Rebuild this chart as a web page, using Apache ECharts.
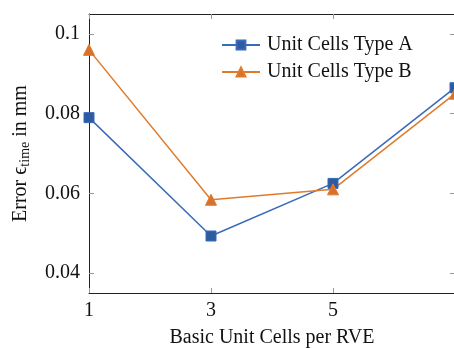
<!DOCTYPE html>
<html>
<head>
<meta charset="utf-8">
<script src="https://cdn.jsdelivr.net/npm/echarts@6/dist/echarts.min.js"></script>
<style>
  html, body { margin: 0; padding: 0; background: #fff; }
  #chart { width: 454px; height: 349px; }
</style>
</head>
<body>
<div id="chart"></div>
<script>
// Basic unit cells per RVE
const cellsPerRve = [1, 3, 5, 7];
// Error in mm for each unit cell type
const typeA = [0.0790, 0.0493, 0.0625, 0.0865];
const typeB = [0.0960, 0.0584, 0.0610, 0.0850];
const seriesNames = ['Unit Cells Type A', 'Unit Cells Type B'];
// Tick positions
const xTicks = [1, 3, 5];
const yTicks = [0.04, 0.06, 0.08, 0.1];

const FONT = '"Liberation Serif", "DejaVu Serif", serif';
const tickStyle = { show: true, inside: true, length: 5, lineStyle: { color: '#999', width: 1 } };
const axisLine = { show: true, lineStyle: { color: '#222', width: 1 } };

const chart = echarts.init(document.getElementById('chart'), null, { renderer: 'canvas' });
chart.setOption({
  animation: false,
  textStyle: { fontFamily: FONT },
  grid: { left: 89, top: 14, width: 366, height: 279, containLabel: false, outerBoundsMode: 'none' },
  legend: {
    left: 221, top: 35, orient: 'vertical', padding: 0,
    itemWidth: 38, itemHeight: 11, itemGap: 7,
    textStyle: { fontFamily: FONT, fontSize: 20, color: '#111', padding: [0, 0, 0, 2] },
    data: seriesNames
  },
  xAxis: [{
    type: 'value', min: 1, max: 7,
    axisLine: axisLine,
    axisTick: Object.assign({ customValues: xTicks }, tickStyle),
    axisLabel: { customValues: xTicks, fontFamily: FONT, fontSize: 20, color: '#111', margin: 8 },
    splitLine: { show: false },
    name: 'Basic Unit Cells per RVE', nameLocation: 'middle', nameGap: 35,
    nameTextStyle: { fontFamily: FONT, fontSize: 20, color: '#111' }
  }, {
    type: 'value', min: 1, max: 7, position: 'top',
    axisLine: axisLine,
    axisTick: Object.assign({ customValues: xTicks }, tickStyle),
    axisLabel: { show: false }, splitLine: { show: false }
  }],
  yAxis: [{
    type: 'value', min: 0.035, max: 0.105,
    axisLine: axisLine,
    axisTick: Object.assign({ customValues: yTicks }, tickStyle),
    axisLabel: { customValues: yTicks, fontFamily: FONT, fontSize: 20, color: '#111', margin: 9,
      formatter: v => String(Math.round(v * 100) / 100) },
    splitLine: { show: false },
    name: '{n|Error ϵ}{s|time}{n| in mm}', nameLocation: 'middle', nameGap: 57,
    nameTextStyle: {
      rich: {
        n: { fontFamily: FONT, fontSize: 20, color: '#111' },
        s: { fontFamily: FONT, fontSize: 14, color: '#111', verticalAlign: 'bottom', padding: [8, 0, 0, 0] }
      }
    }
  }, {
    type: 'value', min: 0.035, max: 0.105, position: 'right',
    axisLine: axisLine,
    axisTick: Object.assign({ customValues: yTicks }, tickStyle),
    axisLabel: { show: false }, splitLine: { show: false }
  }],
  series: [{
    name: seriesNames[0], type: 'line',
    data: cellsPerRve.map((x, i) => [x, typeA[i]]),
    symbol: 'rect', symbolSize: 10,
    lineStyle: { color: '#3a6ab8', width: 1.5 },
    itemStyle: { color: '#2d5aa0', borderColor: '#3a6ab8', borderWidth: 1 }
  }, {
    name: seriesNames[1], type: 'line',
    data: cellsPerRve.map((x, i) => [x, typeB[i]]),
    symbol: 'triangle', symbolSize: 11,
    lineStyle: { color: '#e07b2c', width: 1.5 },
    itemStyle: { color: '#d8712a', borderColor: '#e07b2c', borderWidth: 1 }
  }]
});
</script>
</body>
</html>
